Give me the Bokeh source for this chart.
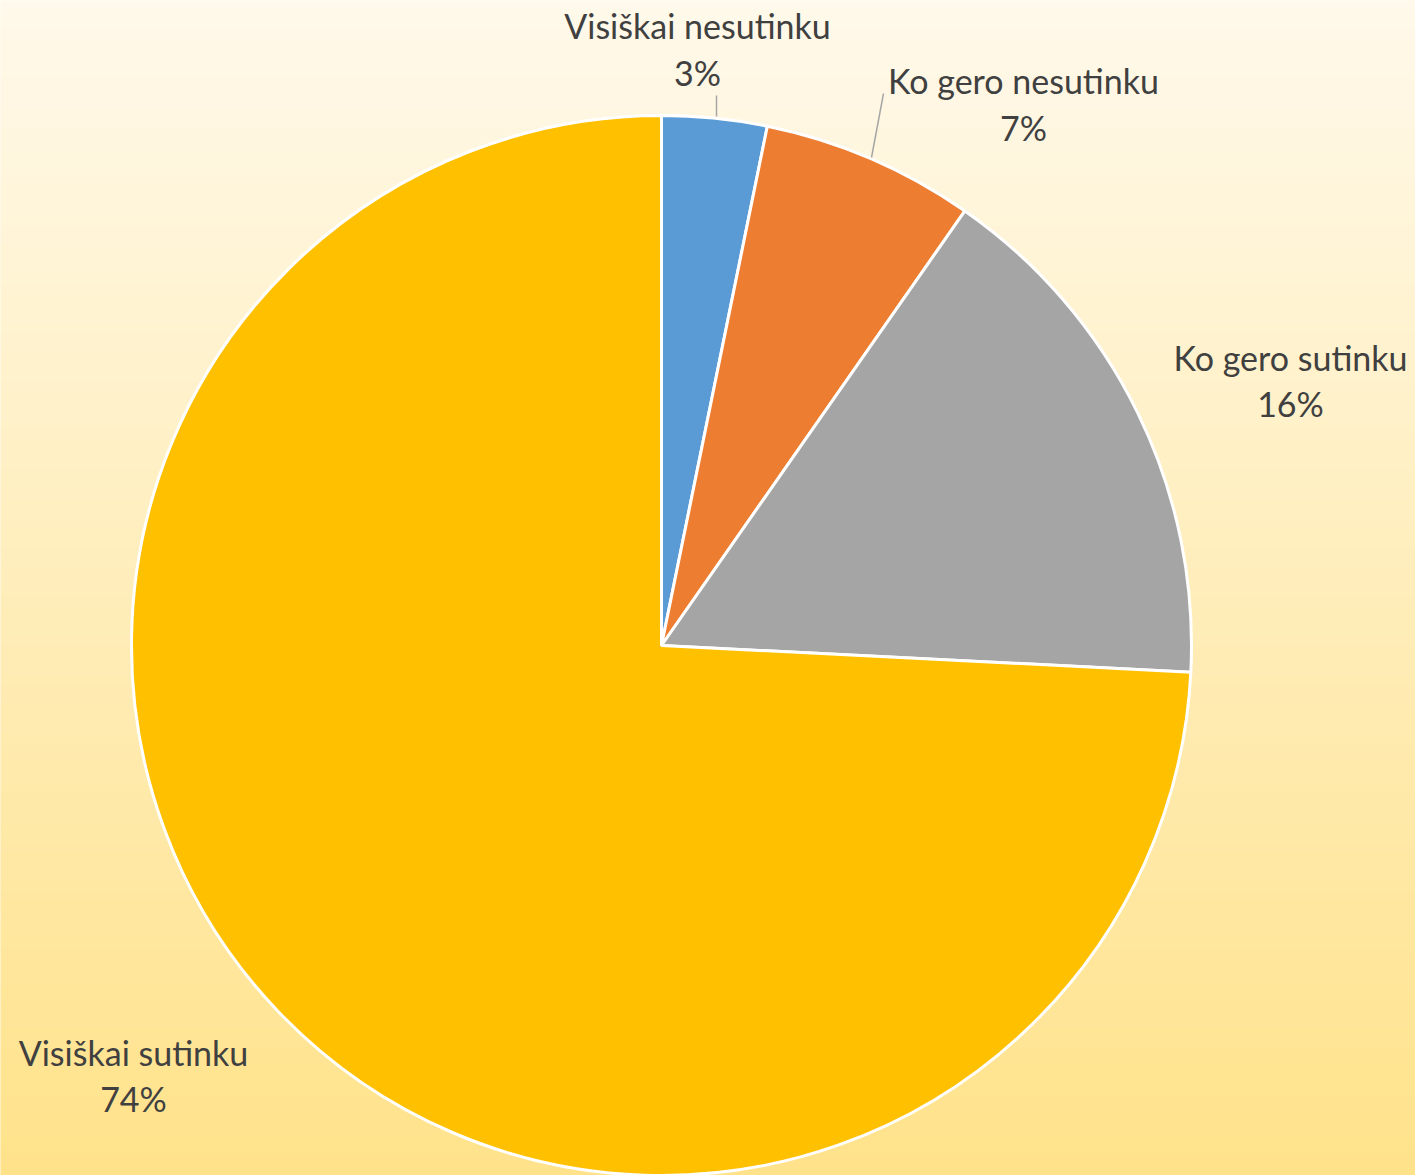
import numpy as np
from bokeh.plotting import figure
from bokeh.models import Range1d, ColumnDataSource
from bokeh.core.properties import value
from bokeh.embed import file_html
from bokeh.resources import INLINE

# ---- data ----
categories = ["Visiškai nesutinku", "Ko gero nesutinku", "Ko gero sutinku", "Visiškai sutinku"]
values = [3.2, 6.5, 16.1, 74.2]
pct_labels = ["3%", "7%", "16%", "74%"]
colors = ["#5B9BD5", "#ED7D31", "#A5A5A5", "#FFC000"]

W, H = 1415, 1175
p = figure(width=W, height=H, output_backend="svg", toolbar_location=None,
           x_range=Range1d(0, W), y_range=Range1d(-H, 0),
           min_border=0)
p.axis.visible = False
p.grid.visible = False
p.outline_line_color = None
p.background_fill_color = "#FFF9EB"
p.border_fill_color = "#FFF9EB"

# background vertical gradient
n = 120
top = np.array([255, 249, 235])
bot = np.array([255, 226, 138])
edges = np.linspace(0, H, n + 1)
bcols = []
for i in range(n):
    t = (i + 0.5) / n
    c = top + (bot - top) * t
    bcols.append("#%02x%02x%02x" % tuple(int(round(v)) for v in c))
p.quad(left=-5, right=W + 5, top=-edges[:-1] + 0.5, bottom=-edges[1:] - 0.5,
       fill_color=bcols, line_color=None)

# pie
cx, cy, r = 661, -645, 530
frac = np.array(values) / np.sum(values)
cum = np.concatenate([[0], np.cumsum(frac)])
start = np.pi / 2 - 2 * np.pi * cum[:-1]
end = np.pi / 2 - 2 * np.pi * cum[1:]
src = ColumnDataSource(dict(start=start, end=end, color=colors))
p.wedge(x=cx, y=cy, radius=r, start_angle="start", end_angle="end",
        direction="clock", fill_color="color", line_color="white",
        line_width=3, source=src)

# leader lines
p.segment(x0=[716, 883], y0=[-95, -93], x1=[716, 871], y1=[-116, -157],
          line_color="#A6A6A6", line_width=1.5)

# labels
lx = [697, 1023, 1290, 133]
ly1 = [-25, -80, -357, -1052]
ly2 = [-72, -127, -403, -1098]
font = value("Lato")
p.text(x=lx, y=ly1, text=categories, text_align="center", text_baseline="middle",
       text_font=font, text_font_size="34px", text_color="#404040")
p.text(x=lx, y=ly2, text=pct_labels, text_align="center", text_baseline="middle",
       text_font=font, text_font_size="34px", text_color="#404040")

open("out.html", "w").write(file_html(p, INLINE))
